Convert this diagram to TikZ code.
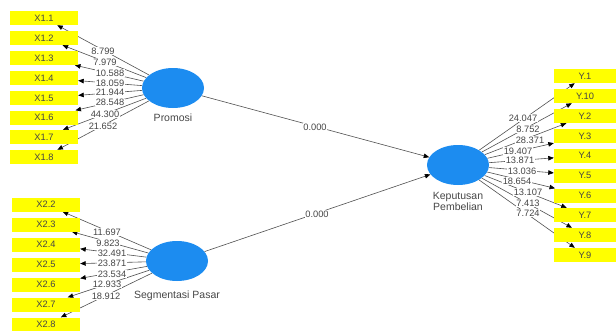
\documentclass[tikz,border=0pt]{standalone}
\usepackage{fontspec}
\setmainfont{Liberation Sans}
\usetikzlibrary{arrows.meta,backgrounds,shapes.geometric}
\definecolor{lvblue}{RGB}{28,140,240}
\definecolor{indyel}{RGB}{255,255,0}
\definecolor{txt}{RGB}{70,70,70}
\definecolor{ln}{RGB}{80,80,80}
\begin{document}
\begin{tikzpicture}[x=1pt,y=-1pt,
  ind/.style={rectangle,fill=indyel,minimum width=68pt,minimum height=14pt,inner sep=0pt,font=\fontsize{9.3}{10}\selectfont,text=txt},
  lv/.style={ellipse,fill=lvblue,minimum width=62pt,minimum height=40pt,inner sep=0pt},
  wt/.style={fill=white,inner sep=0.5pt,font=\fontsize{9.3}{9.5}\selectfont,text=txt},
  conn/.style={draw=ln,line width=0.6pt,-{Triangle[length=5.5pt,width=4.5pt,color=black]}},
  capt/.style={font=\fontsize{10.5}{11}\selectfont,text=txt,align=center}]
\useasboundingbox (0,0) rectangle (616,330);
\clip (0,0) rectangle (616,330);

% latent variables
\node[lv] (P) at (173,88) {};
\node[lv] (S) at (177,261) {};
\node[lv] (K) at (458,165) {};
\node[capt] (Pc) at (173,118) {Promosi};
\node[capt] (Sc) at (177,296) {Segmentasi Pasar};
\node[capt] (Kc) at (458,201) {Keputusan\\Pembelian};

% indicators of Promosi
\node[ind] (X11) at (44,18) {X1.1};
\node[ind] (X12) at (44,38) {X1.2};
\node[ind] (X13) at (44,58) {X1.3};
\node[ind] (X14) at (44,78) {X1.4};
\node[ind] (X15) at (44,98) {X1.5};
\node[ind] (X16) at (44,117.5) {X1.6};
\node[ind] (X17) at (44,137) {X1.7};
\node[ind] (X18) at (44,157) {X1.8};

% indicators of Segmentasi Pasar
\node[ind] (X22) at (46,204.5) {X2.2};
\node[ind] (X23) at (46,224.5) {X2.3};
\node[ind] (X24) at (46,244.5) {X2.4};
\node[ind] (X25) at (46,264.5) {X2.5};
\node[ind] (X26) at (46,284.5) {X2.6};
\node[ind] (X27) at (46,304.5) {X2.7};
\node[ind] (X28) at (46,324.5) {X2.8};

% indicators of Keputusan Pembelian
\node[ind,minimum width=62pt] (Y1) at (585,76) {Y.1};
\node[ind,minimum width=62pt] (Y10) at (585,96) {Y.10};
\node[ind,minimum width=62pt] (Y2) at (585,116) {Y.2};
\node[ind,minimum width=62pt] (Y3) at (585,136) {Y.3};
\node[ind,minimum width=62pt] (Y4) at (585,155.5) {Y.4};
\node[ind,minimum width=62pt] (Y5) at (585,175.5) {Y.5};
\node[ind,minimum width=62pt] (Y6) at (585,195.5) {Y.6};
\node[ind,minimum width=62pt] (Y7) at (585,215) {Y.7};
\node[ind,minimum width=62pt] (Y8) at (585,235) {Y.8};
\node[ind,minimum width=62pt] (Y9) at (585,255) {Y.9};

\begin{pgfonlayer}{background}
  \foreach \t in {X11,X12,X13,X14,X15,X16,X17,X18}
    \draw[conn] (P) -- (\t);
  \foreach \t in {X22,X23,X24,X25,X26,X27,X28}
    \draw[conn] (S) -- (\t);
  \foreach \t in {Y1,Y10,Y2,Y3,Y4,Y5,Y6,Y7,Y8,Y9}
    \draw[conn] (K) -- (\t);
  \draw[conn] (P) -- (K);
  \draw[conn] (S) -- (K);
\end{pgfonlayer}

% path coefficients
\node[wt] (pk) at (315,127) {0.000};
\node[wt] (sk) at (317,214) {0.000};

% outer loadings Promosi
\node[wt] (w11) at (103,51) {8.799};
\node[wt] (w12) at (105,62) {7.979};
\node[wt] (w13) at (110,73) {10.588};
\node[wt] (w14) at (110,83) {18.059};
\node[wt] (w15) at (110,92.5) {21.944};
\node[wt] (w16) at (110,102.5) {28.548};
\node[wt] (w17) at (105,114) {44.300};
\node[wt] (w18) at (103,126) {21.652};

% outer loadings Segmentasi Pasar
\node[wt] (w22) at (107,232) {11.697};
\node[wt] (w23) at (108,243) {9.823};
\node[wt] (w24) at (112,253) {32.491};
\node[wt] (w25) at (112,263.5) {23.871};
\node[wt] (w26) at (112,274) {23.534};
\node[wt] (w27) at (107,284.5) {12.933};
\node[wt] (w28) at (106,296) {18.912};

% outer loadings Keputusan Pembelian
\node[wt] (v1) at (523,118) {24.047};
\node[wt] (v10) at (528,129) {8.752};
\node[wt] (v2) at (530,140) {28.371};
\node[wt] (v3) at (518,151) {19.407};
\node[wt] (v4) at (520,160.5) {13.871};
\node[wt] (v5) at (522,171) {13.036};
\node[wt] (v6) at (517,181) {18.654};
\node[wt] (v7) at (528,192) {13.107};
\node[wt] (v8) at (528,203) {7.413};
\node[wt] (v9) at (528,213) {7.724};
\end{tikzpicture}
\end{document}
